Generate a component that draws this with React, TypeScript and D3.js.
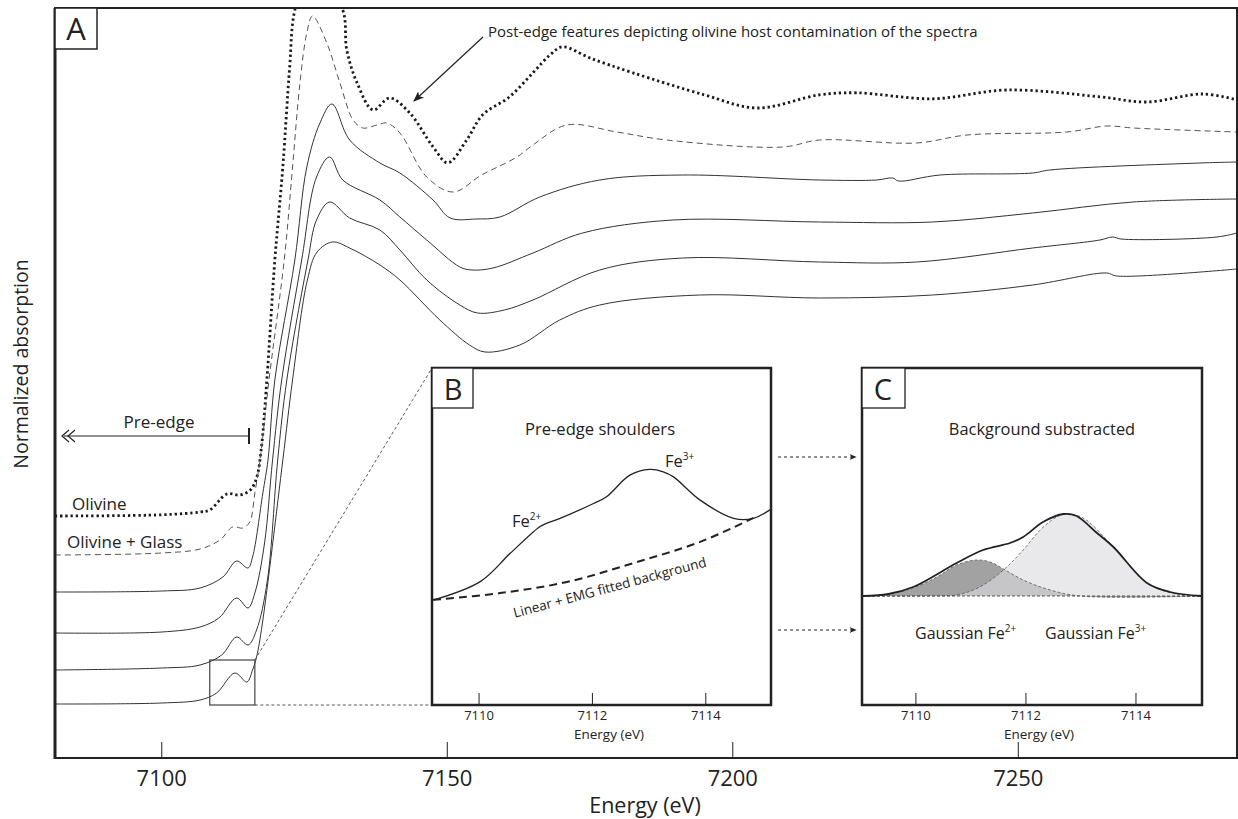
import React from "react";
import * as d3 from "d3";

type P = [number, number];

// ---------- Panel A : Fe K-edge XANES spectra (energy eV, normalized absorption) ----------
const mainTicks = [7100, 7150, 7200, 7250];
const spectrumLabels = ["Olivine", "Olivine + Glass", "", "", "", ""];
const spectrumOffsets = [0.605, 0.5075, 0.415, 0.3125, 0.22, 0.135];

const olivine: P[] = [
  [7081.3, 0], [7100, 0.003], [7106.7, 0.01], [7108.4, 0.015], [7111.4, 0.055], [7113.7, 0.0525],
  [7115.5, 0.065], [7116.6, 0.095], [7117.4, 0.165], [7118.4, 0.34], [7119.8, 0.64], [7121.2, 0.873],
  [7122.4, 1.123], [7123.3, 1.265], [7126.5, 1.39], [7131.7, 1.265], [7132.4, 1.165], [7134.2, 1.083],
  [7137.0, 1.015], [7139.9, 1.045], [7143.4, 1.008], [7147.5, 0.923], [7150.1, 0.883], [7153.4, 0.94],
  [7156.2, 1.003], [7160.9, 1.048], [7165.0, 1.108], [7168, 1.153], [7170.2, 1.173], [7175, 1.145],
  [7182.5, 1.108], [7195, 1.053], [7204.2, 1.02], [7215.2, 1.053], [7221.7, 1.058], [7235, 1.043],
  [7248, 1.065], [7264.3, 1.048], [7272.5, 1.035], [7282.3, 1.055], [7288.3, 1.04],
];

const olivineGlass: P[] = [
  [7081.3, 0], [7100, 0.005], [7106.7, 0.015], [7110.2, 0.0375], [7112.4, 0.07], [7114.2, 0.0675],
  [7115.4, 0.0825], [7116.3, 0.155], [7117.2, 0.2375], [7118.8, 0.44], [7121.5, 0.745], [7122.9, 0.97],
  [7124.2, 1.18], [7125.4, 1.305], [7126.4, 1.3475], [7128.9, 1.28], [7131.2, 1.18], [7133.5, 1.0875],
  [7135.2, 1.0675], [7137.7, 1.075], [7139.4, 1.08], [7141.7, 1.055], [7146.4, 0.945], [7151.0, 0.9075],
  [7156, 0.95], [7162.2, 0.995], [7165, 1.025], [7170.9, 1.075], [7179.7, 1.0575], [7188.4, 1.0375],
  [7208.8, 1.02], [7215.2, 1.0375], [7232.2, 1.03], [7241, 1.05], [7258.5, 1.0575], [7265.5, 1.0725],
  [7270.1, 1.0675], [7288.3, 1.0575],
];

const glass1: P[] = [
  [7081.3, 0], [7100, 0.0025], [7106.7, 0.01], [7110.7, 0.0375], [7113.1, 0.0775], [7115.1, 0.06],
  [7115.9, 0.0875], [7117.7, 0.2475], [7118.6, 0.33], [7119.8, 0.53], [7123.3, 0.83], [7125.4, 1.0625],
  [7127.7, 1.1725], [7129.8, 1.22], [7132.9, 1.13], [7138.2, 1.0725], [7141.7, 1.0475], [7147.5, 0.98],
  [7150.5, 0.935], [7155, 0.9325], [7159.2, 0.9375], [7166.2, 0.9875], [7176.7, 1.03], [7191.2, 1.0425],
  [7215.2, 1.03], [7225.2, 1.03], [7228, 1.035], [7229, 1.0275], [7236.3, 1.0425], [7252.5, 1.0475],
  [7255.5, 1.055], [7281.8, 1.0725], [7288.3, 1.075],
];

const glass2: P[] = [
  [7081.3, 0], [7100, 0.0025], [7106.7, 0.015], [7110, 0.0375], [7113.1, 0.0875], [7115.1, 0.0625],
  [7116.3, 0.1], [7118, 0.225], [7119.4, 0.4325], [7121.0, 0.6325], [7124.5, 0.9325], [7127.1, 1.14],
  [7129.4, 1.19], [7131.7, 1.1325], [7138.2, 1.0825], [7141.7, 1.04], [7146.4, 0.9825], [7152.2, 0.915],
  [7154.3, 0.9075], [7158, 0.9125], [7165, 0.95], [7173.7, 1.0], [7189.5, 1.0325], [7215.2, 1.0275],
  [7235, 1.0275], [7252.5, 1.05], [7270.1, 1.0775], [7288.3, 1.085],
];

const glass3: P[] = [
  [7081.3, 0], [7100, 0.005], [7106.7, 0.0125], [7110.5, 0.0375], [7113.1, 0.0825], [7115.1, 0.0625],
  [7116.6, 0.1], [7118.5, 0.225], [7120.3, 0.525], [7121.9, 0.725], [7125.6, 1.025], [7127.1, 1.125],
  [7129.4, 1.17], [7132.9, 1.13], [7138.2, 1.1], [7141.7, 1.05], [7146.4, 0.975], [7152.2, 0.9125],
  [7155.3, 0.8925], [7160, 0.9], [7165, 0.925], [7176.7, 1.0], [7191.2, 1.03], [7215.2, 1.02],
  [7232.2, 1.02], [7252.5, 1.055], [7264.3, 1.075], [7266.5, 1.0825], [7268, 1.0775], [7284.8, 1.0825],
  [7288.3, 1.0925],
];

const glass4: P[] = [
  [7081.3, 0], [7100, 0.0025], [7106.7, 0.01], [7109.6, 0.0275], [7112.8, 0.0775], [7114.9, 0.055],
  [7115.9, 0.085], [7116.6, 0.1175], [7117.6, 0.2], [7121.2, 0.61], [7122.9, 0.81], [7125.5, 1.06],
  [7127.2, 1.13], [7129.9, 1.155], [7132.9, 1.14], [7138.2, 1.0975], [7141.7, 1.06], [7148.7, 0.96],
  [7153.9, 0.8975], [7156.6, 0.88], [7162.7, 0.8975], [7169.7, 0.96], [7176.7, 0.9975], [7194.2, 1.0225],
  [7215.2, 1.015], [7235, 1.0225], [7252.5, 1.0475], [7265.5, 1.0775], [7267.2, 1.07], [7288.3, 1.0875],
];

const spectra: P[][] = [olivine, olivineGlass, glass1, glass2, glass3, glass4];

// zoomed pre-edge window shown in A
const zoomBoxEnergy = [7108.4, 7116.3];
const zoomBoxAbs = [0.1325, 0.245];

// ---------- Panel B : pre-edge and fitted background ----------
const insetTicks = [7110, 7112, 7114];
const preEdge: P[] = [
  [7109.19, 0.311], [7110.02, 0.366], [7110.55, 0.45], [7111.07, 0.529], [7111.19, 0.539], [7111.43, 0.554],
  [7112.02, 0.598], [7112.25, 0.618], [7112.66, 0.682], [7113.01, 0.699], [7113.25, 0.692], [7113.43, 0.677],
  [7113.9, 0.608], [7114.49, 0.554], [7114.84, 0.554], [7115.13, 0.579],
];
const background: P[] = [
  [7109.19, 0.312], [7110.37, 0.332], [7111.55, 0.365], [7112.72, 0.421], [7113.9, 0.484], [7114.84, 0.555],
];

// ---------- Panel C : background subtracted and gaussian components ----------
const subtracted: P[] = [
  [7109.04, 0], [7109.5, 0.02], [7109.95, 0.09], [7110.74, 0.33], [7111.22, 0.46], [7111.71, 0.53],
  [7111.95, 0.59], [7112.31, 0.74], [7112.68, 0.82], [7112.92, 0.8], [7113.29, 0.63], [7113.59, 0.49],
  [7114.2, 0.13], [7114.62, 0.04], [7115.2, 0],
];
const gaussFe2: P[] = [
  [7109.2, 0], [7109.55, 0.02], [7109.95, 0.08], [7110.38, 0.19], [7110.74, 0.31], [7111.1, 0.36],
  [7111.35, 0.34], [7111.59, 0.27], [7111.95, 0.16], [7112.38, 0.07], [7112.98, 0], [7115.2, 0],
];
const gaussFe3: P[] = [
  [7109.02, 0], [7110.3, 0], [7110.74, 0.01], [7111.16, 0.09], [7111.59, 0.26], [7111.95, 0.46],
  [7112.26, 0.66], [7112.56, 0.79], [7112.74, 0.82], [7113.04, 0.78], [7113.59, 0.49], [7114.2, 0.13],
  [7114.8, 0.01], [7115.2, 0],
];

const FONT = "'Open Sans', 'DejaVu Sans', sans-serif";
const INK = "#222";

export default function App() {
  // main panel scales
  const x = d3.scaleLinear().domain([7081.3, 7288.3]).range([55, 1237]);
  const y = d3.scaleLinear().domain([0, 1.875]).range([758, 8]);
  const [L, R] = x.range();
  const [B0, T0] = y.range();

  const styles = [
    { stroke: "#1a1a1a", width: 2.8, dash: "2.3 2.9" },
    { stroke: "#555", width: 1, dash: "6 4" },
    { stroke: "#333", width: 1, dash: undefined },
    { stroke: "#333", width: 1, dash: undefined },
    { stroke: "#333", width: 1, dash: undefined },
    { stroke: "#333", width: 1, dash: undefined },
  ];

  const specPaths = spectra.map((s, i) =>
    d3
      .line<P>()
      .x((d) => x(d[0]))
      .y((d) => y(d[1] + spectrumOffsets[i]))
      .curve(d3.curveCatmullRom.alpha(0.5))(s) as string
  );

  // inset B
  const xB = d3.scaleLinear().domain([7109.17, 7115.15]).range([432, 771]);
  const yB = d3.scaleLinear().domain([0, 1]).range([705, 368]);
  const lineB = d3.line<P>().x((d) => xB(d[0])).y((d) => yB(d[1])).curve(d3.curveCatmullRom.alpha(0.5));

  // inset C
  const xC = d3.scaleLinear().domain([7109.02, 7115.2]).range([862, 1202]);
  const yC = d3.scaleLinear().domain([0, 1]).range([596, 496]);
  const lineC = d3.line<P>().x((d) => xC(d[0])).y((d) => yC(d[1])).curve(d3.curveCatmullRom.alpha(0.5));
  const areaC = d3
    .area<P>()
    .x((d) => xC(d[0]))
    .y0(yC(0))
    .y1((d) => yC(d[1]))
    .curve(d3.curveCatmullRom.alpha(0.5));

  const [bxL, bxR] = xB.range();
  const [byB, byT] = yB.range();
  const [cxL, cxR] = xC.range();

  const zbx0 = x(zoomBoxEnergy[0]);
  const zbx1 = x(zoomBoxEnergy[1]);
  const zby0 = y(zoomBoxAbs[1]);
  const zby1 = y(zoomBoxAbs[0]);

  const arrowYs = [457, 630];

  return (
    <svg
      width={1238}
      height={819}
      style={{ position: "absolute", left: 0, top: 0, background: "#fff" }}
      fontFamily={FONT}
    >
      <defs>
        <clipPath id="plotClip">
          <rect x={L} y={T0} width={R - L} height={B0 - T0} />
        </clipPath>
        <marker id="arrowHead" viewBox="0 0 10 10" refX="9" refY="5" markerWidth="9" markerHeight="9" orient="auto">
          <path d="M0,1 L10,5 L0,9 L2.5,5 Z" fill={INK} />
        </marker>
        <marker id="arrowSmall" viewBox="0 0 10 10" refX="9" refY="5" markerWidth="7" markerHeight="7" orient="auto">
          <path d="M0,1 L10,5 L0,9 L2.5,5 Z" fill={INK} />
        </marker>
      </defs>

      {/* spectra */}
      <g clipPath="url(#plotClip)">
        {specPaths.map((p, i) => (
          <path
            key={i}
            d={p}
            fill="none"
            stroke={styles[i].stroke}
            strokeWidth={styles[i].width}
            strokeDasharray={styles[i].dash}
          />
        ))}
      </g>

      {/* main frame */}
      <rect x={L} y={T0} width={R - L} height={B0 - T0} fill="none" stroke={INK} strokeWidth={2} />
      <line x1={L} x2={L} y1={T0} y2={B0 + 1} stroke={INK} strokeWidth={3} />

      {/* main x ticks */}
      {mainTicks.map((t) => (
        <g key={t}>
          <line x1={x(t)} x2={x(t)} y1={B0} y2={B0 - 16} stroke={INK} strokeWidth={1} />
          <text x={x(t)} y={786} textAnchor="middle" fontSize={22} fill={INK}>
            {t}
          </text>
        </g>
      ))}
      <text x={645} y={813} textAnchor="middle" fontSize={21.5} fill={INK}>
        Energy (eV)
      </text>
      <text
        transform="translate(28,364) rotate(-90)"
        textAnchor="middle"
        fontSize={19.5}
        fill={INK}
      >
        Normalized absorption
      </text>

      {/* A label */}
      <rect x={L} y={T0} width={42} height={41} fill="#fff" stroke={INK} strokeWidth={1.5} />
      <text x={L + 21} y={T0 + 32} textAnchor="middle" fontSize={31} fill={INK}>
        A
      </text>

      {/* spectrum labels */}
      <text x={72} y={510} fontSize={17} fill={INK}>
        {spectrumLabels[0]}
      </text>
      <text x={67} y={548} fontSize={17} fill={INK}>
        {spectrumLabels[1]}
      </text>

      {/* pre-edge range arrow */}
      <line x1={64} x2={249} y1={436} y2={436} stroke={INK} strokeWidth={1.2} />
      <polyline points="69,430 62,436 69,442" fill="none" stroke={INK} strokeWidth={1.2} />
      <polyline points="75,430 68,436 75,442" fill="none" stroke={INK} strokeWidth={1.2} />
      <line x1={249} x2={249} y1={428} y2={444} stroke={INK} strokeWidth={2} />
      <text x={159} y={428} textAnchor="middle" fontSize={17} fill={INK}>
        Pre-edge
      </text>

      {/* post-edge annotation */}
      <line x1={483} y1={37} x2={414} y2={101} stroke={INK} strokeWidth={1.2} markerEnd="url(#arrowHead)" />
      <text x={488} y={37} fontSize={15} fill={INK}>
        Post-edge features depicting olivine host contamination of the spectra
      </text>

      {/* zoom box and connectors */}
      <rect x={zbx0} y={zby0} width={zbx1 - zbx0} height={zby1 - zby0} fill="none" stroke="#444" strokeWidth={1.2} />
      <line x1={zbx1} y1={zby0} x2={bxL} y2={byT} stroke="#444" strokeWidth={0.9} strokeDasharray="3 2.5" />
      <line x1={zbx1} y1={zby1} x2={bxL} y2={byB} stroke="#444" strokeWidth={0.9} strokeDasharray="3 2.5" />

      {/* ---------- inset B ---------- */}
      <rect x={bxL} y={byT} width={bxR - bxL} height={byB - byT} fill="#fff" />
      <path d={lineB(background) as string} fill="none" stroke={INK} strokeWidth={2} strokeDasharray="8 5" />
      <path d={lineB(preEdge) as string} fill="none" stroke={INK} strokeWidth={1.3} />
      <rect x={bxL} y={byT} width={bxR - bxL} height={byB - byT} fill="none" stroke={INK} strokeWidth={2.5} />
      <rect x={bxL} y={byT} width={41} height={40} fill="#fff" stroke={INK} strokeWidth={1.3} />
      <text x={bxL + 21} y={byT + 32} textAnchor="middle" fontSize={29} fill={INK}>
        B
      </text>
      {insetTicks.map((t) => (
        <g key={"b" + t}>
          <line x1={xB(t)} x2={xB(t)} y1={byB} y2={byB - 12} stroke={INK} strokeWidth={1} />
          <text x={xB(t)} y={720} textAnchor="middle" fontSize={13} fill={INK}>
            {t}
          </text>
        </g>
      ))}
      <text x={609} y={739} textAnchor="middle" fontSize={13.5} fill={INK}>
        Energy (eV)
      </text>
      <text x={600} y={435} textAnchor="middle" fontSize={16.6} fill={INK}>
        Pre-edge shoulders
      </text>
      <text x={512} y={527} fontSize={16.5} fill={INK}>
        Fe<tspan fontSize={10} dy={-7}>2+</tspan>
      </text>
      <text x={665} y={467} fontSize={16.5} fill={INK}>
        Fe<tspan fontSize={10} dy={-7}>3+</tspan>
      </text>
      <text
        transform="translate(611,592) rotate(-15)"
        textAnchor="middle"
        fontSize={13.5}
        fill={INK}
      >
        Linear + EMG fitted background
      </text>

      {/* arrows B -> C */}
      {arrowYs.map((ay) => (
        <line
          key={ay}
          x1={778}
          x2={856}
          y1={ay}
          y2={ay}
          stroke={INK}
          strokeWidth={1}
          strokeDasharray="3 3"
          markerEnd="url(#arrowSmall)"
        />
      ))}

      {/* ---------- inset C ---------- */}
      <rect x={cxL} y={byT} width={cxR - cxL} height={byB - byT} fill="#fff" />
      <path d={areaC(gaussFe2) as string} fill="#a2a2a2" stroke="none" />
      <path d={areaC(gaussFe3) as string} fill="#dcdce0" fillOpacity={0.62} stroke="none" />
      <path d={lineC(gaussFe2) as string} fill="none" stroke="#555" strokeWidth={0.8} strokeDasharray="3 2" />
      <path d={lineC(gaussFe3) as string} fill="none" stroke="#555" strokeWidth={0.8} strokeDasharray="3 2" />
      <line x1={cxL} x2={cxR} y1={yC(0)} y2={yC(0)} stroke="#444" strokeWidth={0.9} strokeDasharray="3 2" />
      <path d={lineC(subtracted) as string} fill="none" stroke={INK} strokeWidth={1.8} />
      <rect x={cxL} y={byT} width={cxR - cxL} height={byB - byT} fill="none" stroke={INK} strokeWidth={2.5} />
      <rect x={cxL} y={byT} width={43} height={40} fill="#fff" stroke={INK} strokeWidth={1.3} />
      <text x={cxL + 21} y={byT + 32} textAnchor="middle" fontSize={29} fill={INK}>
        C
      </text>
      {insetTicks.map((t) => (
        <g key={"c" + t}>
          <line x1={xC(t)} x2={xC(t)} y1={byB} y2={byB - 12} stroke={INK} strokeWidth={1} />
          <text x={xC(t)} y={720} textAnchor="middle" fontSize={13} fill={INK}>
            {t}
          </text>
        </g>
      ))}
      <text x={1039} y={739} textAnchor="middle" fontSize={13.5} fill={INK}>
        Energy (eV)
      </text>
      <text x={1042} y={435} textAnchor="middle" fontSize={16.4} fill={INK}>
        Background substracted
      </text>
      <text x={915} y={639} fontSize={16} fill={INK}>
        Gaussian Fe<tspan fontSize={10} dy={-7}>2+</tspan>
      </text>
      <text x={1045} y={639} fontSize={16} fill={INK}>
        Gaussian Fe<tspan fontSize={10} dy={-7}>3+</tspan>
      </text>
    </svg>
  );
}
